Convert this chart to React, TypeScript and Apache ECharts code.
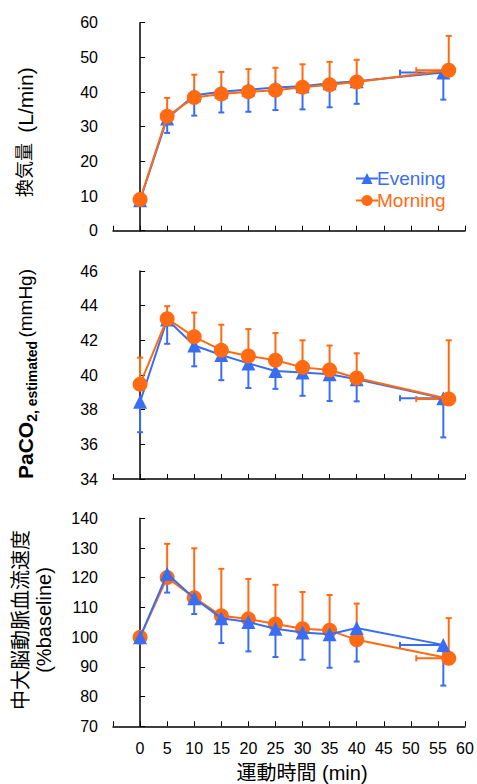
import React, { useEffect, useRef } from 'react';
import * as echarts from 'echarts';

// ---- data ----
const eveningTimes = [0, 5, 10, 15, 20, 25, 30, 35, 40, 56];
const morningTimes = [0, 5, 10, 15, 20, 25, 30, 35, 40, 57];
const eveningLastTimeLow = 48;
const morningLastTimeLow = 51;

const veEvening = [8.8, 32.4, 39.1, 40.1, 40.7, 41.3, 41.7, 42.5, 43.1, 45.6];
const veEveningLow = [8.2, 28.2, 33.2, 34.1, 34.3, 34.8, 35.0, 35.6, 36.6, 37.8];
const veMorning = [9.0, 33.0, 38.4, 39.4, 40.1, 40.5, 41.4, 42.1, 42.9, 46.3];
const veMorningHigh = [9.8, 38.3, 45.0, 45.8, 46.6, 47.0, 48.0, 48.7, 49.3, 56.2];

const pcoEvening = [38.45, 43.2, 41.7, 41.15, 40.67, 40.23, 40.14, 40.04, 39.75, 38.66];
const pcoEveningLow = [36.7, 41.8, 40.5, 39.7, 39.25, 39.2, 38.8, 38.5, 38.48, 36.4];
const pcoMorning = [39.47, 43.25, 42.2, 41.43, 41.1, 40.85, 40.44, 40.29, 39.83, 38.62];
const pcoMorningHigh = [41.0, 43.97, 43.6, 42.9, 42.65, 42.42, 42.0, 41.7, 41.25, 42.0];

const mcaEvening = [100, 121.3, 113.1, 106.4, 105.1, 102.8, 101.6, 101.0, 103.1, 97.4];
const mcaEveningLow = [100, 115.0, 107.8, 98.0, 95.2, 93.3, 92.4, 89.7, 91.8, 83.7];
const mcaMorning = [100, 120.05, 113.3, 107.2, 106.1, 104.4, 102.8, 102.3, 99.1, 92.9];
const mcaMorningHigh = [100, 131.4, 129.9, 123.0, 119.6, 117.6, 115.2, 114.2, 111.3, 106.4];

const yRanges = [
  { min: 0, max: 60, interval: 10 },
  { min: 34, max: 46, interval: 2 },
  { min: 70, max: 140, interval: 10 },
];
const xMin = -5;
const xMax = 60;
const xInterval = 5;

const BLUE = '#3a6ef2';
const ORANGE = '#ff6a12';
const FONT = "'Liberation Sans', 'Noto Sans CJK JP', sans-serif";

function errRender(color: string) {
  return (params: any, api: any) => {
    const p0 = api.coord([api.value(0), api.value(1)]);
    const p1 = api.coord([api.value(2), api.value(3)]);
    const horizontal = Math.abs(p1[1] - p0[1]) < Math.abs(p1[0] - p0[0]);
    const cap = 3;
    const capShape = horizontal
      ? { x1: p1[0], y1: p1[1] - cap, x2: p1[0], y2: p1[1] + cap }
      : { x1: p1[0] - cap, y1: p1[1], x2: p1[0] + cap, y2: p1[1] };
    return {
      type: 'group',
      children: [
        { type: 'line', shape: { x1: p0[0], y1: p0[1], x2: p1[0], y2: p1[1] }, style: { stroke: color, lineWidth: 2 } },
        { type: 'line', shape: capShape, style: { stroke: color, lineWidth: 2 } },
      ],
    };
  };
}

function errData(times: number[], vals: number[], ends: number[], lastTimeLow: number) {
  const d: number[][] = times.map((t, i) => [t, vals[i], t, ends[i]]);
  const n = times.length - 1;
  d.push([times[n], vals[n], lastTimeLow, vals[n]]);
  return d;
}

export default function App() {
  const ref = useRef<HTMLDivElement>(null);
  useEffect(() => {
    if (!ref.current) return;
    const chart = echarts.init(ref.current, undefined, { renderer: 'svg' });
    const gridTops = [22.7, 271, 518.3];
    const grids = gridTops.map((t) => ({ left: 113, width: 352, top: t, height: 208 }));
    const xAxes = [0, 1, 2].map((i) => ({
      type: 'value',
      gridIndex: i,
      min: xMin,
      max: xMax,
      interval: xInterval,
      axisLine: { show: true, lineStyle: { color: '#000', width: 1.5 } },
      axisTick: { show: true, inside: true, length: 5, lineStyle: { color: '#000', width: 1 } },
      splitLine: { show: false },
      axisLabel: {
        show: i === 2,
        color: '#000',
        fontSize: 16,
        fontFamily: FONT,
        margin: 14,
        formatter: (v: number) => (v < 0 ? '' : String(v)),
      },
    }));
    const yAxes = yRanges.map((r, i) => ({
      type: 'value',
      gridIndex: i,
      min: r.min,
      max: r.max,
      interval: r.interval,
      axisLine: { show: true, lineStyle: { color: '#000', width: 1.5 } },
      axisTick: { show: true, inside: true, length: 5, lineStyle: { color: '#000', width: 1 } },
      splitLine: { show: false },
      axisLabel: { color: '#000', fontSize: 16, fontFamily: FONT, margin: 15 },
    }));

    const panels = [
      { ev: veEvening, evEnd: veEveningLow, mo: veMorning, moEnd: veMorningHigh, morningTop: true },
      { ev: pcoEvening, evEnd: pcoEveningLow, mo: pcoMorning, moEnd: pcoMorningHigh, morningTop: true },
      { ev: mcaEvening, evEnd: mcaEveningLow, mo: mcaMorning, moEnd: mcaMorningHigh, morningTop: false },
    ];

    const series: any[] = [];
    panels.forEach((p, i) => {
      series.push({
        type: 'custom',
        name: 'errE' + i,
        xAxisIndex: i,
        yAxisIndex: i,
        renderItem: errRender(BLUE),
        encode: { x: [0, 2], y: [1, 3] },
        data: errData(eveningTimes, p.ev, p.evEnd, eveningLastTimeLow),
        silent: true,
        z: 1,
      });
      series.push({
        type: 'custom',
        name: 'errM' + i,
        xAxisIndex: i,
        yAxisIndex: i,
        renderItem: errRender(ORANGE),
        encode: { x: [0, 2], y: [1, 3] },
        data: errData(morningTimes, p.mo, p.moEnd, morningLastTimeLow),
        silent: true,
        z: 1,
      });
      const eveLine = {
        type: 'line',
        name: 'Evening',
        xAxisIndex: i,
        yAxisIndex: i,
        data: eveningTimes.map((t, k) => [t, p.ev[k]]),
        symbol: 'triangle',
        symbolSize: 14,
        lineStyle: { color: BLUE, width: 2 },
        itemStyle: { color: BLUE },
        z: p.morningTop ? 2 : 4,
      };
      const mornLine = {
        type: 'line',
        name: 'Morning',
        xAxisIndex: i,
        yAxisIndex: i,
        data: morningTimes.map((t, k) => [t, p.mo[k]]),
        symbol: 'circle',
        symbolSize: 15,
        lineStyle: { color: ORANGE, width: 2 },
        itemStyle: { color: ORANGE },
        z: p.morningTop ? 4 : 2,
      };
      series.push(eveLine, mornLine);
    });

    chart.setOption({
      animation: false,
      backgroundColor: '#fff',
      grid: grids,
      xAxis: xAxes,
      yAxis: yAxes,
      legend: {
        left: 350,
        top: 164,
        orient: 'vertical',
        itemWidth: 22,
        itemHeight: 14,
        itemGap: 3,
        selectedMode: false,
        data: [
          { name: 'Evening', textStyle: { color: BLUE } },
          { name: 'Morning', textStyle: { color: ORANGE } },
        ],
        textStyle: { fontSize: 19, fontFamily: FONT, padding: [0, 0, 0, -6] },
      },
      series,
      graphic: [
        {
          type: 'text',
          x: 25,
          y: 170,
          rotation: Math.PI / 2,
          style: {
            text: '換気量',
            textAlign: 'center',
            textVerticalAlign: 'middle',
            fill: '#000',
            fontSize: 18,
            fontFamily: FONT,
          },
        },
        {
          type: 'text',
          x: 25,
          y: 100,
          rotation: Math.PI / 2,
          style: {
            text: '(L/min)',
            textAlign: 'center',
            textVerticalAlign: 'middle',
            fill: '#000',
            fontSize: 21,
            fontFamily: FONT,
          },
        },
        {
          type: 'text',
          x: 25,
          y: 374,
          rotation: Math.PI / 2,
          style: {
            text: '{b|PaCO}{s|2, estimated} {n|(mmHg)}',
            textAlign: 'center',
            textVerticalAlign: 'middle',
            fill: '#000',
            rich: {
              b: { fontSize: 21, fontWeight: 'bold', fontFamily: FONT, lineHeight: 28, verticalAlign: 'middle', fill: '#000' },
              s: { fontSize: 14, fontWeight: 'bold', fontFamily: FONT, lineHeight: 28, verticalAlign: 'bottom', fill: '#000' },
              n: { fontSize: 19, fontFamily: FONT, lineHeight: 28, verticalAlign: 'middle', fill: '#000' },
            },
          },
        },
        {
          type: 'text',
          x: 32,
          y: 620,
          rotation: Math.PI / 2,
          style: {
            text: '中大脳動脈血流速度\n(%baseline)',
            textAlign: 'center',
            textVerticalAlign: 'middle',
            fill: '#000',
            fontSize: 20,
            lineHeight: 23,
            fontFamily: FONT,
          },
        },
        {
          type: 'text',
          x: 302,
          y: 773,
          style: {
            text: '運動時間 (min)',
            textAlign: 'center',
            textVerticalAlign: 'middle',
            fill: '#000',
            fontSize: 20,
            fontFamily: FONT,
          },
        },
      ],
    });
    return () => chart.dispose();
  }, []);
  return <div ref={ref} style={{ position: 'fixed', left: 0, top: 0, width: 477, height: 784 }} />;
}
